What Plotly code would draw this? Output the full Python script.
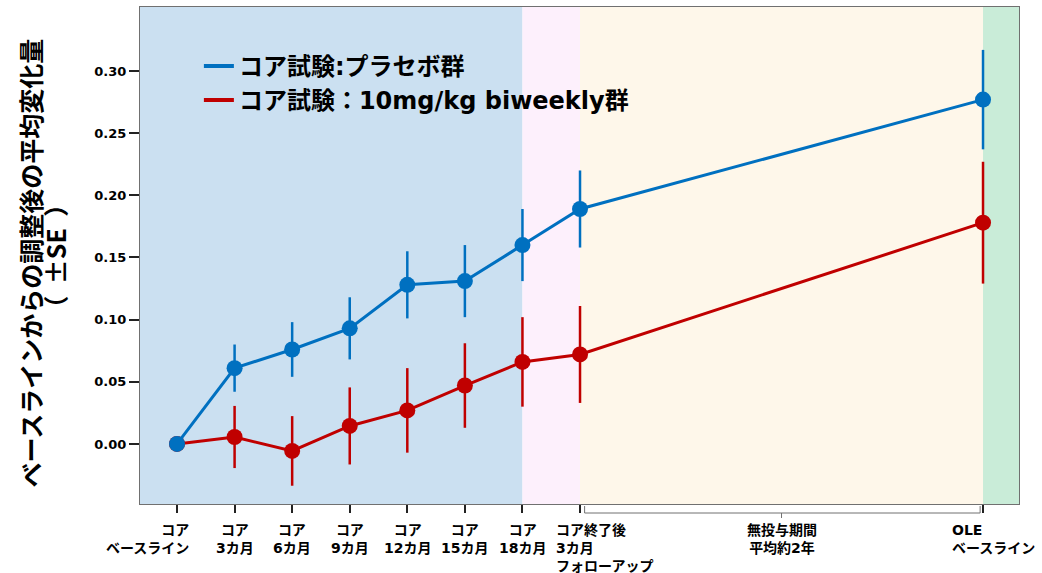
import plotly.graph_objects as go

# ---- data ----
x_pos = [0, 1, 2, 3, 4, 5, 6, 7, 14]
x_labels = ["コア<br>ベースライン", "コア<br>3カ月", "コア<br>6カ月", "コア<br>9カ月",
            "コア<br>12カ月", "コア<br>15カ月", "コア<br>18カ月",
            "コア終了後<br>3カ月<br>フォローアップ", "OLE<br>ベースライン"]
gap_label = "無投与期間<br>平均約2年"

placebo_name = "コア試験:プラセボ群"
placebo_mean = [0.000, 0.061, 0.076, 0.093, 0.128, 0.131, 0.160, 0.189, 0.277]
placebo_se = [0.000, 0.019, 0.022, 0.025, 0.027, 0.029, 0.029, 0.031, 0.040]

dose_name = "コア試験：10mg/kg biweekly群"
dose_mean = [0.000, 0.0056, -0.0056, 0.0145, 0.027, 0.047, 0.066, 0.072, 0.178]
dose_se = [0.000, 0.025, 0.028, 0.031, 0.034, 0.034, 0.036, 0.039, 0.049]

y_ticks = [0.00, 0.05, 0.10, 0.15, 0.20, 0.25, 0.30]
phase_edges = [6, 7, 14]  # core end / follow-up end / OLE start

BLUE = "#0070c0"
RED = "#c00000"
FONT = "DejaVu Sans, Noto Sans CJK JP"
CJK = "Noto Sans CJK JP, DejaVu Sans"

x_range = [-0.643, 14.625]
y_range = [-0.0483, 0.3515]

fig = go.Figure()

# data traces (red under blue)
fig.add_trace(go.Scatter(
    x=x_pos, y=dose_mean, mode="lines+markers", showlegend=False,
    line=dict(color=RED, width=3), marker=dict(color=RED, size=16),
    error_y=dict(type="data", array=dose_se, visible=True, color=RED,
                 thickness=2.5, width=0)))
fig.add_trace(go.Scatter(
    x=x_pos, y=placebo_mean, mode="lines+markers", showlegend=False,
    line=dict(color=BLUE, width=3), marker=dict(color=BLUE, size=16),
    error_y=dict(type="data", array=placebo_se, visible=True, color=BLUE,
                 thickness=2.5, width=0)))

# legend entries
fig.add_trace(go.Scatter(x=[None], y=[None], mode="lines", name=placebo_name,
                         line=dict(color=BLUE, width=4)))
fig.add_trace(go.Scatter(x=[None], y=[None], mode="lines", name=dose_name,
                         line=dict(color=RED, width=4)))

# background phases
bg = [(x_range[0], phase_edges[0], "#cbe0f1"),
      (phase_edges[0], phase_edges[1], "#fdf0fc"),
      (phase_edges[1], phase_edges[2], "#fef7ea"),
      (phase_edges[2], x_range[1], "#c9ecd8")]
for a, b, c in bg:
    fig.add_shape(type="rect", xref="x", yref="paper", x0=a, x1=b, y0=0, y1=1,
                  fillcolor=c, line_width=0, layer="below")

# bracket under the no-dosing period
bc = "#707070"
fig.add_shape(type="line", xref="x", yref="paper", ysizemode="pixel", yanchor=0,
              x0=phase_edges[1] + 0.08, x1=phase_edges[2] - 0.05, y0=-9, y1=-9,
              line=dict(color=bc, width=1))
for xe in (phase_edges[1] + 0.08, phase_edges[2] - 0.05):
    fig.add_shape(type="line", xref="x", yref="paper", ysizemode="pixel", yanchor=0,
                  x0=xe, x1=xe, y0=-2, y1=-9, line=dict(color=bc, width=1))
mid = (phase_edges[1] + phase_edges[2]) / 2
fig.add_shape(type="line", xref="x", yref="paper", ysizemode="pixel", yanchor=0,
              x0=mid, x1=mid, y0=-9, y1=-14, line=dict(color=bc, width=1))

# x labels
lab_font = dict(family=FONT, size=14, color="black", weight="bold")
for i, (xp, txt) in enumerate(zip(x_pos, x_labels)):
    if i == 0:
        kw = dict(xanchor="right", align="right", xshift=14)
    elif i == 7:
        kw = dict(xanchor="left", align="left", xshift=-26)
    elif i == 8:
        kw = dict(xanchor="left", align="left", xshift=-33)
    else:
        kw = dict(xanchor="center", align="center")
    fig.add_annotation(x=xp, y=0, xref="x", yref="paper", yanchor="top", yshift=-16,
                       text=txt, showarrow=False, font=lab_font, **kw)
fig.add_annotation(x=mid, y=0, xref="x", yref="paper", yanchor="top", yshift=-16,
                   text=gap_label, showarrow=False, font=lab_font, align="center")

# y title as two rotated lines
tfont = dict(family=CJK, size=25, color="black", weight="bold")
fig.add_annotation(x=0, y=0.5, xref="paper", yref="paper", xanchor="center",
                   xshift=-111, yshift=-8, textangle=-90, showarrow=False,
                   text="ベースラインからの調整後の平均変化量", font=tfont)
fig.add_annotation(x=0, y=0.5, xref="paper", yref="paper", xanchor="center",
                   xshift=-86, yshift=-1, textangle=-90, showarrow=False,
                   text="（&nbsp;&nbsp;±SE&nbsp;&nbsp;）", font=tfont)

fig.update_layout(
    width=1042, height=573,
    margin=dict(l=140, r=23, t=7, b=69),
    paper_bgcolor="white", plot_bgcolor="white",
    showlegend=True,
    legend=dict(x=0.067, y=0.926, xanchor="left", yanchor="top",
                bgcolor="rgba(0,0,0,0)",
                font=dict(family=FONT, size=24, color="black", weight="bold")),
    xaxis=dict(range=x_range, tickvals=x_pos, ticktext=[""] * len(x_pos),
               ticks="outside", ticklen=8, tickwidth=2, tickcolor="#222",
               showgrid=False, zeroline=False, showline=True, linecolor="#707070",
               linewidth=1, mirror=True),
    yaxis=dict(range=y_range, tickvals=y_ticks, tickformat=".2f",
               ticks="outside", ticklen=10, tickwidth=1.5, tickcolor="#222",
               showgrid=False, zeroline=False, showline=True, linecolor="#707070",
               linewidth=1, mirror=True,
               tickfont=dict(family=FONT, size=13, color="black", weight="bold")),
)

fig.write_html("out.html", config={"displayModeBar": False},
               post_script="document.body.style.margin='0';")
